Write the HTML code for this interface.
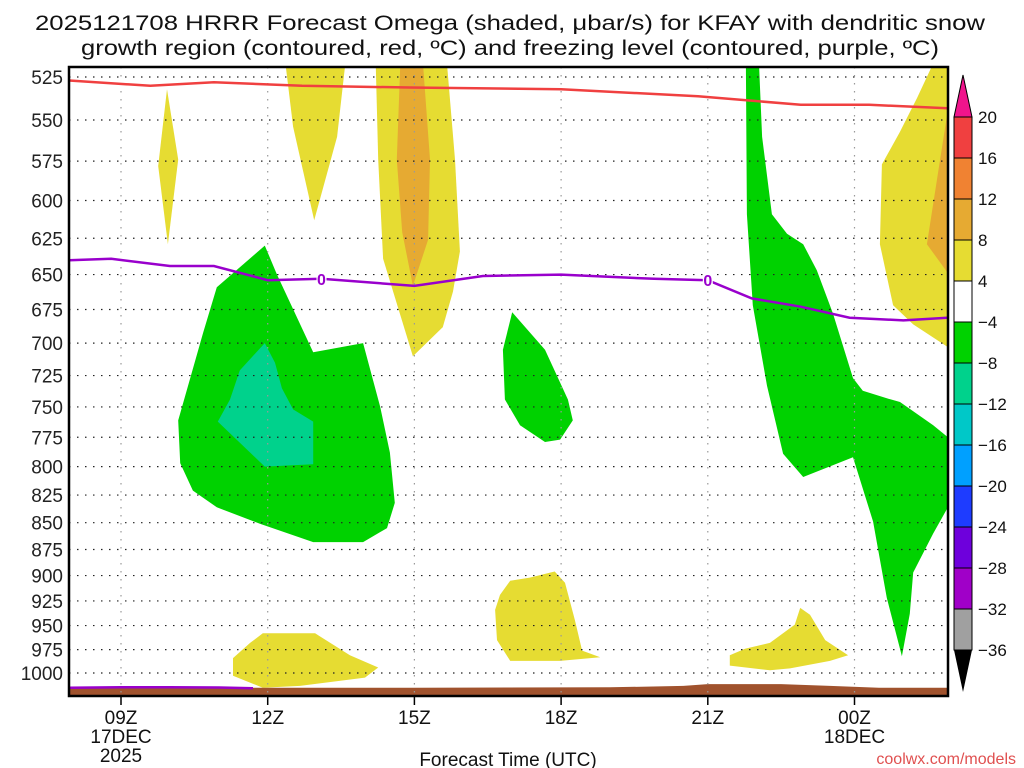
<!DOCTYPE html>
<html><head><meta charset="utf-8"><style>
html,body{margin:0;padding:0;background:#fff;}
svg{display:block;font-family:"Liberation Sans",sans-serif;}
</style></head><body>
<svg id="chart" width="1024" height="768" viewBox="0 0 1024 768" xmlns="http://www.w3.org/2000/svg">
<text x="510" y="30" font-size="21" text-anchor="middle" textLength="950" lengthAdjust="spacingAndGlyphs" fill="#111">2025121708 HRRR Forecast Omega (shaded, μbar/s) for KFAY with dendritic snow</text>
<text x="510" y="55" font-size="21" text-anchor="middle" textLength="858" lengthAdjust="spacingAndGlyphs" fill="#111">growth region (contoured, red, ºC) and freezing level (contoured, purple, ºC)</text>
<g id="shading"></g>
<g id="grid"></g>
<g id="lines"></g>
<g id="axes"></g>
<g id="cbar"></g>
<text x="508" y="766" font-size="19" text-anchor="middle" fill="#111">Forecast Time (UTC)</text>
<text x="1016" y="764" font-size="16" text-anchor="end" fill="#e05050">coolwx.com/models</text>
</svg>
<script>
// ---- data ----
const pressureTicks = [525,550,575,600,625,650,675,700,725,750,775,800,825,850,875,900,925,950,975,1000];
const timeTickHours = [9,12,15,18,21,24];
const timeTickLabels = [["09Z","17DEC","2025"],["12Z"],["15Z"],["18Z"],["21Z"],["00Z","18DEC"]];
const dgzHours = [7.94,9.6,10.9,12.7,14.9,18,20.8,22.9,24.3,25.9];
const dgzPres = [527,530,528,530,531,532,536,541,541,543];
const frzHours = [7.94,8.8,10,10.9,12,13.1,15,16.4,18,19.9,21,21.9,22.9,23.9,25,25.9];
const frzPres = [640,639,644,644,654,653,658,651,650,653,654,667,673,681,683,681];
const frzLowHours = [7.94,9,10,11,11.7];
const frzLowPres = [1016,1015.5,1015.5,1015.8,1016.5];
const sfcHours = [7.94,10,15,19,20.5,21,22.5,23.5,24.5,25.9];
const sfcPres = [1016,1016,1016,1015.5,1014,1012,1012,1014,1016,1016];
const cbLevels = ["20","16","12","8","4","−4","−8","−12","−16","−20","−24","−28","−32","−36"];
const cbColors = ["#f04040","#f08232","#e6aa32","#e6dc32","#ffffff","#00d200","#00d28c","#00c8c8","#00a0ff","#1e3cff","#6e00dc","#a000c8","#a0a0a0"];
// shaded regions: [color, hours[], pressures[]]
const regions = [
 ["#e6dc32",[9.94,10.17,9.96,9.76],[532,574,629,578]],
 ["#e6dc32",[12.37,13.58,13.42,12.95,12.52],[519,519,560,613,554]],
 ["#e6dc32",[14.21,15.67,15.83,15.93,15.79,15.58,14.97,14.36,14.26],[519,519,574,634,662,688,710,639,574]],
 ["#e6aa32",[14.71,15.18,15.32,15.28,14.97,14.75,14.64],[519,519,574,626,658,621,574]],
 ["#00d200",[11.94,12.19,12.93,13.95,14.3,14.5,14.6,14.44,13.95,12.93,11.84,10.96,10.47,10.21,10.17,10.68,10.96],[630,650,707,700,750,788,832,855,868,868,851,836,821,797,761,692,659]],
 ["#00d28c",[11.94,12.15,12.29,12.52,12.93,12.93,11.94,10.98,11.23,11.43],[700,715,735,752,762,798,800,762,744,721]],
 ["#00d200",[17,17.67,18.14,18.24,17.98,17.67,17.16,16.85,16.81],[677,705,744,761,777,779,765,744,705]],
 ["#00d200",[21.78,22.05,22.11,22.31,22.62,22.95,23.23,23.56,23.97,24.17,24.66,24.93,25.61,25.91,25.91,25.61,25.2,25.13,24.97,24.66,24.38,23.97,22.95,22.54,22.21,21.92,21.8],[519,519,560,609,622,629,647,678,727,737,743,746,765,775,836,860,897,938,982,922,849,792,809,789,733,672,609]],
 ["#e6dc32",[25.58,25.91,25.91,25.2,24.79,24.52,24.56,24.93,25.28],[519,519,703,686,672,629,577,557,537]],
 ["#e6aa32",[25.91,25.75,25.48,25.91],[544,574,629,649]],
 ["#e6dc32",[11.29,11.64,11.9,12.97,13.68,14.26,13.99,12.66,11.9,11.29],[984,968,958,958,981,994,1005,1014,1016,1003]],
 ["#e6dc32",[16.96,17.36,17.87,18.08,18.28,18.43,18.8,17.98,16.96,16.69,16.65,16.75],[905,902,896,907,944,976,983,987,987,965,934,919]],
 ["#e6dc32",[21.45,21.76,22.27,22.78,22.89,23.09,23.4,23.87,23.5,22.68,22.27,21.45],[981,974,968,949,932,939,965,981,987,995,997,992]]
];
// ---- axes ----
const L=69,R=948,T=67,B=696;
const xs = h => 121 + (h-9)*48.9;
const ys = p => 77 + 925*Math.log(p/525);
const NS="http://www.w3.org/2000/svg";
function mk(tag,attrs,parent){const e=document.createElementNS(NS,tag);for(const k in attrs)e.setAttribute(k,attrs[k]);parent.appendChild(e);return e;}
const gS=document.getElementById('shading'),gG=document.getElementById('grid'),gL=document.getElementById('lines'),gA=document.getElementById('axes'),gC=document.getElementById('cbar');
const defs=mk('defs',{},document.getElementById('chart'));
const cp=mk('clipPath',{id:'plotclip'},defs);mk('rect',{x:L,y:T,width:R-L,height:B-T},cp);
gS.setAttribute('clip-path','url(#plotclip)');gL.setAttribute('clip-path','url(#plotclip)');
regions.forEach((r,i)=>{
 const pts=r[1].map((h,j)=>xs(h).toFixed(1)+','+ys(r[2][j]).toFixed(1)).join(' ');
 const e=mk('polygon',{points:pts,fill:r[0]},gS);
 
 
});
// surface
{const pts=sfcHours.map((h,j)=>xs(h).toFixed(1)+','+ys(sfcPres[j]).toFixed(1));pts.push(R+','+B,L+','+B);
 const e=mk('polygon',{points:pts.join(' '),fill:'#a0522d'},gS);
 
 }
// grid
pressureTicks.forEach(p=>{
 const e=mk('line',{x1:L,x2:R,y1:ys(p),y2:ys(p),stroke:'#222','stroke-width':1.2,'stroke-dasharray':'1.5 6.5'},gG);
 
 
 const t=mk('text',{x:63,y:ys(p)+7,'font-size':19,'text-anchor':'end',fill:'#222'},gA);t.textContent=p;
 
 
});
timeTickHours.forEach((h,i)=>{
 const e=mk('line',{x1:xs(h),x2:xs(h),y1:T,y2:B,stroke:'#999','stroke-width':1.2,'stroke-dasharray':'1.5 6.5'},gG);
 
 
 mk('line',{x1:xs(h),x2:xs(h),y1:B,y2:B+9,stroke:'#000','stroke-width':1.5},gA);
 timeTickLabels[i].forEach((s,k)=>{const t=mk('text',{x:xs(h),y:724+k*19,'font-size':19,'text-anchor':'middle',fill:'#111'},gA);t.textContent=s;
  
  });
});
// lines
function line(hs,ps,col,name){const d=hs.map((h,j)=>(j?'L':'M')+xs(h).toFixed(1)+','+ys(ps[j]).toFixed(1)).join(' ');
 const e=mk('path',{d:d,fill:'none',stroke:col,'stroke-width':2.5},gL);
 
 }
line(dgzHours,dgzPres,'#f04040','dgz-contour');
line(frzHours,frzPres,'#9900cc','freezing-level-contour');
line(frzLowHours,frzLowPres,'#9900cc','freezing-level-surface');
[13.1,21].forEach(h=>{let j=0;while(frzHours[j+1]<h)j++;const f=(h-frzHours[j])/(frzHours[j+1]-frzHours[j]);const p=frzPres[j]+f*(frzPres[j+1]-frzPres[j]);
 mk('rect',{x:xs(h)-5,y:ys(p)-8,width:10,height:16,fill:'#fff'},gL);
 const t=mk('text',{x:xs(h),y:ys(p)+6,'font-size':16,'font-weight':'bold','text-anchor':'middle',fill:'#9900cc'},gL);t.textContent='0';
 
 });
mk('rect',{x:L,y:T,width:R-L,height:B-T,fill:'none',stroke:'#000','stroke-width':2.5},gA);
// colorbar
const cx=954,cw=18,cTop=117,cStep=41;
mk('polygon',{points:`${cx},${cTop} ${cx+cw},${cTop} ${cx+cw/2},${cTop-42}`,fill:'#f0148c',stroke:'#000','stroke-width':1},gC);
cbColors.forEach((c,i)=>{const e=mk('rect',{x:cx,y:cTop+i*cStep,width:cw,height:cStep,fill:c,stroke:'#000','stroke-width':1},gC);
 
 });
const cBot=cTop+cbColors.length*cStep;
mk('polygon',{points:`${cx},${cBot} ${cx+cw},${cBot} ${cx+cw/2},${cBot+42}`,fill:'#000'},gC);
cbLevels.forEach((s,i)=>{const t=mk('text',{x:978,y:cTop+i*cStep+6,'font-size':17,fill:'#111'},gC);t.textContent=s;
 
 });
</script>
</body></html>
